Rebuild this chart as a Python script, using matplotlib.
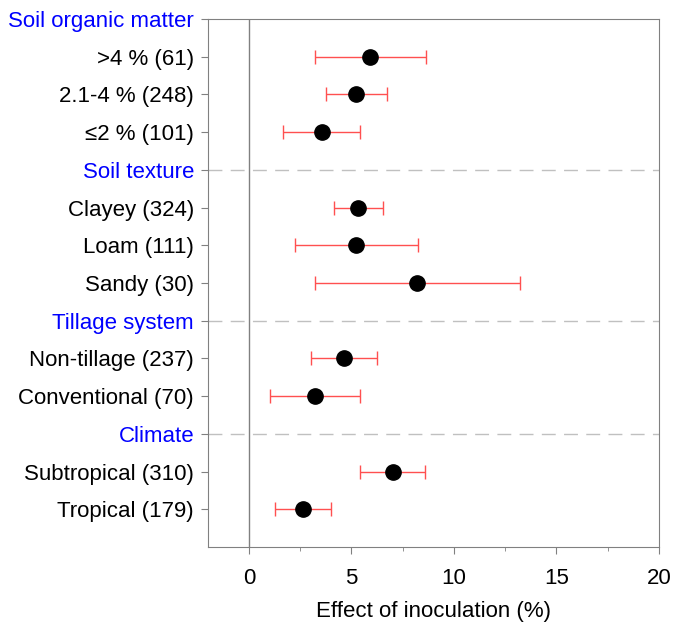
import numpy as np
import matplotlib
matplotlib.use("Agg")
import matplotlib.pyplot as plt

plt.rcParams['font.family'] = ['Liberation Sans', 'DejaVu Sans']

# ======================== Data =============================
# rows from top to bottom; headers have no estimate
labels = ['Soil organic matter', '>4 % (61)', '2.1-4 % (248)', '≤2 % (101)',
          'Soil texture', 'Clayey (324)', 'Loam (111)', 'Sandy (30)',
          'Tillage system', 'Non-tillage (237)', 'Conventional (70)',
          'Climate', 'Subtropical (310)', 'Tropical (179)']
is_header = [True, False, False, False,
             True, False, False, False,
             True, False, False,
             True, False, False]
effect = [np.nan, 5.92, 5.22, 3.55,
          np.nan, 5.34, 5.24, 8.22,
          np.nan, 4.64, 3.23,
          np.nan, 7.02, 2.63]
ci_low = [np.nan, 3.20, 3.75, 1.67,
          np.nan, 4.14, 2.24, 3.21,
          np.nan, 3.03, 1.04,
          np.nan, 5.42, 1.27]
ci_high = [np.nan, 8.65, 6.73, 5.43,
           np.nan, 6.54, 8.24, 13.22,
           np.nan, 6.23, 5.42,
           np.nan, 8.61, 4.00]

n = len(labels)
ypos = np.arange(n, 0, -1)       # 14 ... 1
effect = np.array(effect)
lo = effect - np.array(ci_low)
hi = np.array(ci_high) - effect

# ======================== Figure =============================
fig = plt.figure(figsize=(6.74, 6.23), dpi=100)
ax = fig.add_axes([0.3086, 0.122, 0.669, 0.8475])

ax.axvline(0, color='#808080', linewidth=1, zorder=1)
for y, h in zip(ypos, is_header):
    if h and y < n:
        ax.axhline(y, color='#c0c0c0', linewidth=1, dashes=(10, 6), zorder=1)

ax.errorbar(effect, ypos, xerr=[lo, hi], fmt='none', ecolor='#ff5050',
            elinewidth=1, capsize=5, capthick=1, zorder=2)
ax.plot(effect, ypos, 'o', color='black', markersize=11, zorder=3)

ax.set_xlim(-2, 20)
ax.set_ylim(0, n)
ax.set_xticks([0, 5, 10, 15, 20])
ax.set_xticks(np.arange(2.5, 20, 5), minor=True)
ax.set_yticks(ypos)
ax.set_yticklabels(labels)
for tl, h in zip(ax.get_yticklabels(), is_header):
    if h:
        tl.set_color('#0000ff')

ax.tick_params(axis='both', which='major', direction='out', length=5,
               color='#808080', labelsize=16, pad=5)
ax.tick_params(axis='x', which='minor', direction='out', length=3, color='#808080')
ax.tick_params(axis='x', pad=10)
for s in ax.spines.values():
    s.set_color('#808080')

ax.set_xlabel('Effect of inoculation (%)', fontsize=16, labelpad=9)

fig.savefig('out.png', dpi=100)
